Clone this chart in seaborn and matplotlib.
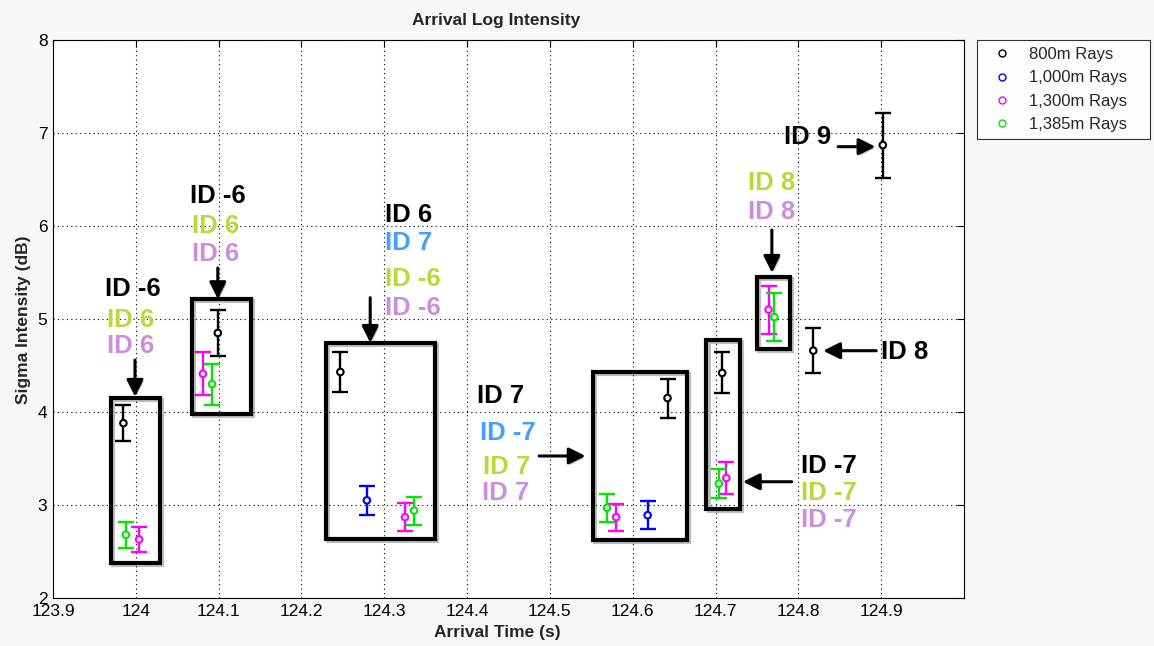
import matplotlib
matplotlib.use("Agg")
import matplotlib.pyplot as plt
import matplotlib.patheffects as pe
from matplotlib.lines import Line2D
from matplotlib.patches import Rectangle
import seaborn as sns
import pandas as pd

# ---------------- data ----------------
series_names = ["800m Rays", "1,000m Rays", "1,300m Rays", "1,385m Rays"]
series_colors = ["#000000", "#0000ff", "#ff00ff", "#00e600"]

t_800 = [123.985, 124.099, 124.247, 124.642, 124.708, 124.818, 124.902]
s_800 = [3.88, 4.85, 4.43, 4.15, 4.42, 4.66, 6.87]
e_800 = [0.19, 0.25, 0.22, 0.21, 0.22, 0.24, 0.35]

t_1000 = [124.279, 124.618]
s_1000 = [3.05, 2.89]
e_1000 = [0.155, 0.15]

t_1300 = [124.004, 124.081, 124.325, 124.580, 124.713, 124.764]
s_1300 = [2.63, 4.41, 2.87, 2.87, 3.29, 5.10]
e_1300 = [0.13, 0.23, 0.147, 0.145, 0.167, 0.26]

t_1385 = [123.988, 124.092, 124.336, 124.569, 124.704, 124.771]
s_1385 = [2.68, 4.30, 2.94, 2.97, 3.23, 5.02]
e_1385 = [0.14, 0.22, 0.15, 0.148, 0.16, 0.255]

# annotation boxes: (x0, x1, y0, y1)
box_x0 = [123.970, 124.068, 124.230, 124.552, 124.689, 124.750]
box_x1 = [124.029, 124.139, 124.361, 124.665, 124.729, 124.790]
box_y0 = [2.373, 3.975, 2.634, 2.624, 2.957, 4.681]
box_y1 = [4.154, 5.212, 4.742, 4.433, 4.771, 5.448]

# arrows: tail -> tip
arr_x_tail = [123.999, 124.099, 124.283, 124.487, 124.792, 124.768, 124.894, 124.848]
arr_y_tail = [4.559, 5.548, 5.229, 3.527, 3.250, 5.957, 4.659, 6.853]
arr_x_tip = [123.999, 124.099, 124.283, 124.543, 124.733, 124.768, 124.830, 124.893]
arr_y_tip = [4.165, 5.215, 4.745, 3.527, 3.250, 5.498, 4.659, 6.853]

# ID labels
label_text = ["ID -6", "ID 6", "ID 6",
              "ID -6", "ID 6", "ID 6",
              "ID 6", "ID 7", "ID -6", "ID -6",
              "ID 7", "ID -7", "ID 7", "ID 7",
              "ID -7", "ID -7", "ID -7",
              "ID 8", "ID 8",
              "ID 8", "ID 9"]
label_kind = ["k", "g", "p",
              "k", "g", "p",
              "k", "b", "g", "p",
              "k", "b", "g", "p",
              "k", "g", "p",
              "g", "p",
              "k", "k"]
label_x = [123.963, 123.965, 123.965,
           124.065, 124.068, 124.068,
           124.301, 124.301, 124.301, 124.301,
           124.412, 124.416, 124.419, 124.418,
           124.803, 124.803, 124.803,
           124.739, 124.739,
           124.900, 124.783]
label_y = [5.323, 4.989, 4.710,
           6.323, 6.000, 5.699,
           6.118, 5.817, 5.430, 5.118,
           4.172, 3.774, 3.409, 3.129,
           3.419, 3.129, 2.839,
           6.462, 6.151,
           4.645, 6.957]
label_colors = {"k": "#000000", "g": "#bdd63a", "p": "#cc8ce0", "b": "#44a0ff"}

x_ticks = [123.9, 124.0, 124.1, 124.2, 124.3, 124.4, 124.5, 124.6, 124.7, 124.8, 124.9]
x_ticklabels = ["123.9", "124", "124.1", "124.2", "124.3", "124.4", "124.5",
                "124.6", "124.7", "124.8", "124.9"]
y_ticks = [2, 3, 4, 5, 6, 7, 8]

# ---------------- plot ----------------
sns.set_style("white")
plt.rcParams["font.family"] = ["Liberation Sans", "DejaVu Sans"]

fig = plt.figure(figsize=(11.54, 6.46), dpi=100, facecolor="#f7f7f7")
ax = fig.add_axes([53 / 1154, 48 / 646, 911 / 1154, 558 / 646])
ax.set_facecolor("white")

frames = []
for name, t, s, e in [(series_names[0], t_800, s_800, e_800),
                      (series_names[1], t_1000, s_1000, e_1000),
                      (series_names[2], t_1300, s_1300, e_1300),
                      (series_names[3], t_1385, s_1385, e_1385)]:
    frames.append(pd.DataFrame({"time": t, "sigma": s, "err": e, "series": name}))
df = pd.concat(frames, ignore_index=True)

palette = dict(zip(series_names, series_colors))
for name in series_names:
    sub = df[df["series"] == name]
    ax.errorbar(sub["time"], sub["sigma"], yerr=sub["err"], fmt="none",
                ecolor=palette[name], elinewidth=1.7, capsize=5.5, capthick=1.7, zorder=3)

sns.scatterplot(data=df, x="time", y="sigma", hue="series", palette=palette,
                marker="o", s=22, facecolor="white", linewidth=1.5, ax=ax,
                legend=False, zorder=4)
for coll in ax.collections:
    if hasattr(coll, "get_offsets") and len(coll.get_offsets()) == len(df):
        fc = coll.get_facecolors()
        coll.set_edgecolors(fc)
        coll.set_facecolors("white")

line_shadow = [pe.SimpleLineShadow(offset=(1.5, -1.5), alpha=0.25), pe.Normal()]
patch_shadow = [pe.SimplePatchShadow(offset=(1.5, -1.5), alpha=0.25), pe.Normal()]

for x0, x1, y0, y1 in zip(box_x0, box_x1, box_y0, box_y1):
    r = Rectangle((x0, y0), x1 - x0, y1 - y0, fill=False, edgecolor="black",
                  linewidth=3.0, zorder=5)
    r.set_path_effects(line_shadow)
    ax.add_patch(r)

for xt, yt, xh, yh in zip(arr_x_tail, arr_y_tail, arr_x_tip, arr_y_tip):
    ann = ax.annotate("", xy=(xh, yh), xytext=(xt, yt),
                      arrowprops=dict(arrowstyle="-|>", color="black", lw=2.2,
                                      mutation_scale=25, shrinkA=0, shrinkB=0),
                      zorder=6)
    ann.arrow_patch.set_path_effects(patch_shadow)

for txt, kind, x, y in zip(label_text, label_kind, label_x, label_y):
    ax.text(x, y, txt, color=label_colors[kind], fontsize=18.5, fontweight="bold",
            ha="left", va="center", zorder=7)

ax.set_xlim(123.9, 125.0)
ax.set_ylim(2, 8)
ax.set_xticks(x_ticks)
ax.set_xticklabels(x_ticklabels)
ax.set_yticks(y_ticks)
ax.tick_params(direction="in", length=5, width=0.8, top=True, right=True,
               labelsize=12.5, pad=4, colors="black")
ax.grid(True, linestyle=(0, (1, 3)), color="black", linewidth=0.8)
for sp in ax.spines.values():
    sp.set_visible(True)
    sp.set_color("black")
    sp.set_linewidth(0.8)

ax.set_xlabel("Arrival Time (s)", fontsize=12.5, fontweight="bold")
ax.set_ylabel("Sigma Intensity (dB)", fontsize=12.5, fontweight="bold")
ax.xaxis.set_label_coords((497 - 53) / 911, -(625 - 598) / 558)
ax.yaxis.set_label_coords((31 - 53) / 911, (598 - 320) / 558)
fig.text(496 / 1154, 1 - 20 / 646, "Arrival Log Intensity", ha="center", va="center",
         fontsize=12.5, fontweight="bold")

handles = [Line2D([], [], linestyle="none", marker="o", markersize=5,
                  markerfacecolor="none", markeredgecolor=c, markeredgewidth=1.0)
           for c in series_colors]
leg = fig.legend(handles, series_names, loc="upper left",
                 bbox_to_anchor=(977 / 1154, 1 - 41 / 646, 173 / 1154, 0.001),
                 mode="expand", frameon=True,
                 fancybox=False, edgecolor="black", fontsize=12,
                 borderpad=0.4, labelspacing=0.5, handlelength=2.2,
                 handletextpad=0.5, borderaxespad=0)
leg.get_frame().set_linewidth(0.8)
leg.get_frame().set_facecolor("white")

fig.savefig("out.png", dpi=100, facecolor=fig.get_facecolor())
